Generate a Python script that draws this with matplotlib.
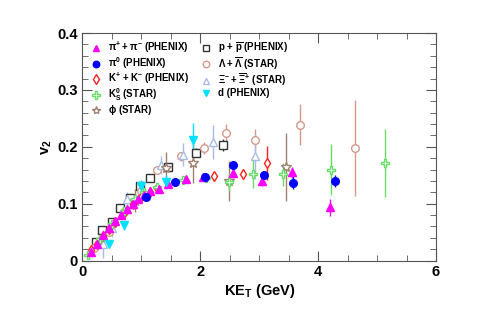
import numpy as np
import matplotlib
matplotlib.use('Agg')
from matplotlib import pyplot as plt
from matplotlib.ticker import MultipleLocator

plt.rcParams['font.family'] = ['Liberation Sans', 'DejaVu Sans']
plt.rcParams['font.weight'] = 'bold'
plt.rcParams['mathtext.fontset'] = 'dejavusans'
plt.rcParams['mathtext.default'] = 'regular'

# values (KE_T in GeV, v2)
pi_x = [0.15, 0.25, 0.35, 0.45, 0.55, 0.65, 0.75, 0.85, 0.95, 1.05, 1.15, 1.3, 1.45, 1.75, 2.05, 2.55, 3.05, 3.55, 4.2]
pi_y = [0.016, 0.03, 0.045, 0.057, 0.07, 0.081, 0.091, 0.1, 0.109, 0.116, 0.122, 0.126, 0.134, 0.143, 0.147, 0.154, 0.14, 0.155, 0.094]
pi_e = [0.002, 0.002, 0.002, 0.002, 0.002, 0.002, 0.002, 0.002, 0.002, 0.002, 0.003, 0.003, 0.003, 0.004, 0.005, 0.008, 0.008, 0.01, 0.015]

pi0_x = [1.08, 1.57, 2.08, 2.55, 3.08, 3.58, 4.28]
pi0_y = [0.112, 0.138, 0.147, 0.168, 0.151, 0.137, 0.14]
pi0_e = [0.003, 0.003, 0.004, 0.006, 0.007, 0.012, 0.01]

k_x = [0.15, 0.25, 0.35, 0.45, 0.55, 0.7, 0.85, 1.0, 1.15, 1.27, 2.24, 2.72, 3.13]
k_y = [0.018, 0.03, 0.044, 0.055, 0.067, 0.084, 0.099, 0.111, 0.121, 0.128, 0.149, 0.152, 0.172]
k_e = [0.002, 0.002, 0.002, 0.002, 0.002, 0.003, 0.003, 0.003, 0.003, 0.004, 0.005, 0.008, 0.03]

ks_x = [0.09, 0.3, 0.5, 0.7, 0.9, 1.05, 1.26, 1.71, 2.1, 2.48, 2.89, 3.4, 4.21, 5.14]
ks_y = [0.009, 0.038, 0.064, 0.088, 0.108, 0.12, 0.129, 0.142, 0.145, 0.138, 0.152, 0.152, 0.16, 0.172]
ks_e = [0.004, 0.003, 0.003, 0.003, 0.003, 0.004, 0.004, 0.005, 0.006, 0.015, 0.025, 0.02, 0.045, 0.06]

phi_x = [0.9, 1.42, 1.88, 2.48, 3.45]
phi_y = [0.105, 0.163, 0.171, 0.14, 0.165]
phi_e = [0.02, 0.028, 0.035, 0.035, 0.06]

p_x = [0.23, 0.33, 0.5, 0.64, 0.8, 0.97, 1.14, 1.45, 1.92, 2.38]
p_y = [0.033, 0.054, 0.068, 0.092, 0.11, 0.131, 0.145, 0.165, 0.19, 0.203]
p_e = [0.003, 0.003, 0.003, 0.003, 0.004, 0.004, 0.005, 0.006, 0.008, 0.01]

lam_x = [0.2, 0.45, 0.7, 1.0, 1.26, 1.67, 2.06, 2.44, 2.93, 3.69, 4.62]
lam_y = [0.022, 0.05, 0.085, 0.122, 0.16, 0.183, 0.198, 0.225, 0.212, 0.239, 0.198]
lam_e = [0.004, 0.004, 0.004, 0.005, 0.006, 0.008, 0.01, 0.015, 0.02, 0.036, 0.085]

xi_x = [0.35, 0.5, 0.75, 1.33, 1.7, 2.22, 2.92]
xi_y = [0.03, 0.057, 0.108, 0.168, 0.186, 0.208, 0.183]
xi_e = [0.025, 0.015, 0.012, 0.015, 0.02, 0.03, 0.04]

d_x = [0.45, 0.7, 1.0, 1.42, 1.87]
d_y = [0.03, 0.062, 0.131, 0.138, 0.212]
d_e = [0.006, 0.008, 0.01, 0.012, 0.03]

series = [
    (pi_x, pi_y, pi_e, '^', '#ff00ff', True, r'$\pi^{+} + \pi^{-}$ (PHENIX)'),
    (pi0_x, pi0_y, pi0_e, 'o', '#0000ff', True, r'$\pi^{0}$ (PHENIX)'),
    (k_x, k_y, k_e, 'd', '#ff2020', False, r'K$^{+}$ + K$^{-}$ (PHENIX)'),
    (ks_x, ks_y, ks_e, 'P', '#66dd66', False, r'K$^{0}_{S}$ (STAR)'),
    (phi_x, phi_y, phi_e, '*', '#a08070', False, r'$\phi$ (STAR)'),
    (p_x, p_y, p_e, 's', '#333333', False, r'p + $\overline{p}$ (PHENIX)'),
    (lam_x, lam_y, lam_e, 'o', '#d59a8a', False, r'$\Lambda + \overline{\Lambda}$ (STAR)'),
    (xi_x, xi_y, xi_e, '^', '#a8bce8', False, r'$\Xi^{-} + \overline{\Xi}^{+}$ (STAR)'),
    (d_x, d_y, d_e, 'v', '#00e0ff', True, 'd (PHENIX)'),
]
sizes = {'^': 5.5, 'o': 5.5, 'd': 5.5, 'P': 6, '*': 7, 's': 5.5, 'v': 5.5}

fig = plt.figure(figsize=(4.85, 3.27), dpi=100)
ax = fig.add_axes([0.170, 0.203, 0.729, 0.696])

# draw open species first, filled on top
order = [5, 6, 7, 4, 2, 3, 0, 1, 8]
hmap = {}
for i in order:
    x, y, e, m, c, filled, lab = series[i]
    h = ax.errorbar(x, y, yerr=e, fmt=m, color=c, ecolor=c, elinewidth=1,
                    capsize=0, markersize=sizes[m], markeredgewidth=1,
                    markerfacecolor=c if filled else 'white',
                    markeredgecolor=c, label=lab)
    hmap[i] = h[0]  # marker line only, so the legend shows no error bars

ax.set_xlim(0, 6)
ax.set_ylim(0, 0.4)
ax.xaxis.set_minor_locator(MultipleLocator(0.5))
ax.yaxis.set_minor_locator(MultipleLocator(0.02))
ax.set_xticks([0, 2, 4, 6])
ax.set_xticklabels(['0', '2', '4', '6'])
ax.set_yticks([0, 0.1, 0.2, 0.3, 0.4])
ax.set_yticklabels(['0', '0.1', '0.2', '0.3', '0.4'])
ax.tick_params(which='both', direction='in', top=True, right=True, labelsize=10.5, color='#555555')
ax.tick_params(which='major', length=7)
ax.tick_params(which='minor', length=4)
for s in ax.spines.values():
    s.set_color('#555555')

ax.set_xlabel(r'KE$_{T}$ (GeV)', fontsize=10.5, fontweight='bold', labelpad=2)
ax.set_ylabel(r'v$_{2}$', fontsize=10.5, fontweight='bold', labelpad=2)

leg = ax.legend([hmap[i] for i in range(9)], [series[i][6] for i in range(9)],
                ncol=2, loc='upper left', bbox_to_anchor=(0.005, 1.0),
                frameon=False, fontsize=7.0, handletextpad=0.7,
                columnspacing=1.3, labelspacing=0.0, handlelength=1.0,
                borderaxespad=0.3, markerscale=0.85)

fig.savefig('out.png', dpi=100)
